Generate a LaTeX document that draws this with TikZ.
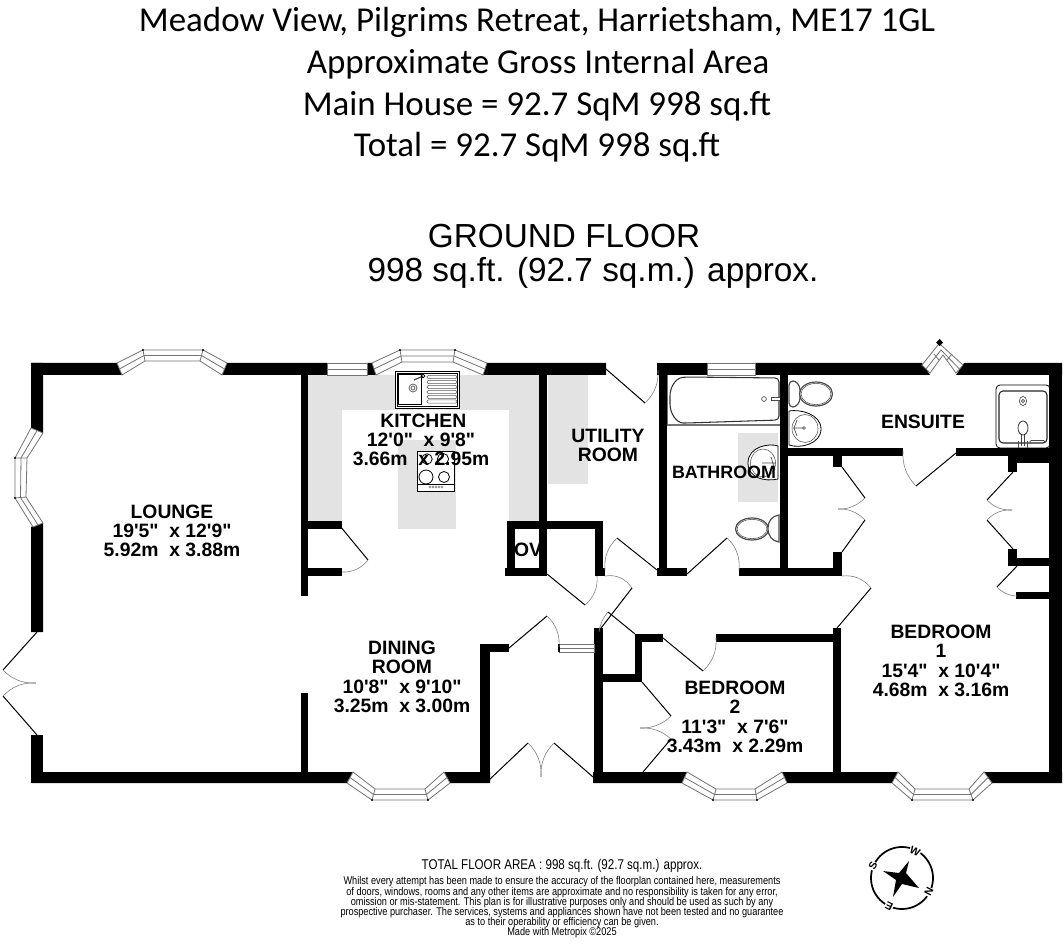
\documentclass[tikz,border=0pt]{standalone}
\usepackage{fontspec}
\usepackage{graphicx}
\usetikzlibrary{calc}
\newfontfamily\titlef{Carlito}
\newfontfamily\labf{Liberation Sans}
\newfontfamily\narrowf[FakeStretch=0.82]{Liberation Sans}
\newcommand\tightlines{\lineskiplimit=-5pt\relax}
\definecolor{floorgrey}{gray}{0.89}
\definecolor{glassline}{gray}{0.45}
\tikzset{
  wallfill/.style={fill=black,draw=none},
  leaf/.style={draw=black,line width=0.75pt},
  swing/.style={draw=black!50,line width=0.45pt},
  glass/.style={draw=glassline,line width=0.6pt,fill=white,line join=miter},
  glassmid/.style={draw=glassline,line width=0.6pt},
  fix/.style={draw=black,line width=0.6pt,fill=white},
  fixg/.style={draw=black!70,line width=0.9pt,fill=white},
  titletext/.style={font=\titlef\fontsize{26.2}{30}\selectfont,anchor=base,inner sep=0pt},
  headtext/.style={font=\labf\fontsize{25}{30}\selectfont,anchor=base,inner sep=0pt},
  roomtext/.style={font=\labf\bfseries\fontsize{14.5}{14.5}\selectfont\tightlines,align=center,inner sep=0pt},
  finetext/.style={font=\narrowf\fontsize{8.4}{7.65}\selectfont\tightlines,align=center,anchor=base,inner sep=0pt},
  compassletter/.style={font=\labf\bfseries\fontsize{8}{8}\selectfont,fill=white,inner sep=0.5pt},
}
\newcommand\W[4]{\fill[wallfill] (#1,#2) rectangle (#3,#4);}
\newcommand\doorleaf[3]{%
  \draw[leaf] #1 -- #2;
  \coordinate (swc) at ($#1!1.17!($#2!.5!#3$)$);
  \draw[swing] #2 .. controls ($#2!.667!(swc)$) and ($#3!.667!(swc)$) .. #3;}
\newcommand\bay[8]{%
  \draw[glass] #1 -- #2 -- #3 -- #4 -- #8 -- #7 -- #6 -- #5 -- cycle;
  \draw[glassmid] ($#1!.5!#5$) -- ($#2!.5!#6$) -- ($#3!.5!#7$) -- ($#4!.5!#8$);
  \draw[glassmid] #2 -- #6 #3 -- #7;
  \fill[black] #2 circle (1.2) #3 circle (1.2);
}
\newcommand\flatwin[4]{%
  \draw[glass] (#1,#2) rectangle (#3,#4);
  \draw[glassmid] (#1,{(#2+#4)/2}) -- (#3,{(#2+#4)/2});
}
\begin{document}
\begin{tikzpicture}[x=0.75pt,y=-0.75pt]
\useasboundingbox (0,0) rectangle (1064,944);
% ---------- floor tint
\fill[floorgrey] (308,375) rectangle (539,410);
\fill[floorgrey] (308,410) rectangle (342,521);
\fill[floorgrey] (509,410) rectangle (539,521);
\fill[floorgrey] (398,440) rectangle (456,529);
\fill[floorgrey] (548,375) rectangle (588,484);
\fill[floorgrey] (738,433) rectangle (778,502);
% ---------- sink
\draw[fix] (395.5,371.5) rectangle (459.5,408.5);
\draw[black,line width=0.5pt] (397.5,373.5) rectangle (457.5,406.5);
\draw[black,line width=0.5pt] (398.5,374.5) rectangle (421.5,404.5);
\draw[black!70,line width=0.5pt] (413,388) circle (4) (413,388) circle (2);
\draw[black!70,line width=0.9pt] (414,380) -- (423,376);
\draw[black,line width=0.5pt] (423,376) circle (1.8);
\foreach \yy in {377,382,387,392,397,401.5}
  \draw[black!65,line width=0.5pt,rounded corners=1pt] (427,\yy-1.6) rectangle (457,\yy+1.6);
% ---------- hob
\draw[fix] (417,451) rectangle (454,491);
\draw[black,line width=0.5pt] (417,484) -- (454,484);
\draw[black,line width=0.6pt] (427,459) circle (5.2) (443,459) circle (5.6) (426,477) circle (7) (444,477) circle (5.5);
\foreach \xx in {430,433,436,439,442}
  \draw[black!60,line width=0.3pt] (\xx,487) circle (1.1);
% ---------- bath
\draw[draw=black!55,line width=1pt,fill=white] (667.5,374) rectangle (784,425);
\draw[black!80,line width=0.8pt,rounded corners=3pt] (779,378) -- (687,377) .. controls (675,378) and (670,388) .. (670,400) .. controls (670,414) and (677,423) .. (687,423) -- (779,420) -- cycle;
\draw[black!70,line width=0.5pt] (764,399) circle (2.4);
\draw[black!70,line width=0.5pt,fill=white] (771,397.5) rectangle (782,400.5);
\draw[black!70,line width=0.5pt,fill=white] (780,392) rectangle (783,406);
% ---------- ensuite toilet
\draw[fixg,rounded corners=3pt] (789,381) .. controls (796,381) and (800,385) .. (800,394) .. controls (800,403) and (796,407) .. (789,407) -- cycle;
\draw[fixg] (816,394) ellipse (16.5 and 12);
\draw[black!70,line width=0.4pt] (816,394) ellipse (15 and 10.6);
% ---------- ensuite basin
\draw[fix] (789,411) .. controls (800,409) and (821,414) .. (821,429) .. controls (821,444) and (800,449) .. (789,445) -- cycle;
\draw[black!70,line width=0.4pt] (805,428.5) ellipse (13 and 14);
\draw[black!70,line width=0.5pt] (793,428) -- (804,428) (797,420) -- (794,428) -- (797,436);
\draw[black!70,line width=0.4pt] (804,428) circle (1.5);
% ---------- bathroom basin
\draw[fix] (778,446) .. controls (770,443) and (748,446) .. (748,463) .. controls (748,478) and (765,482) .. (778,479) -- cycle;
\draw[black!70,line width=0.4pt] (763,463) ellipse (12.5 and 14);
\draw[black!70,line width=0.5pt] (762,463) -- (775,463) (771,457) -- (775,470);
% ---------- bathroom toilet
\draw[fixg] (752,529) ellipse (16.5 and 11);
\draw[black!70,line width=0.4pt] (752,529) ellipse (15 and 9.6);
\draw[fixg] (779,515) .. controls (772,516) and (768,521) .. (768,528) .. controls (768,536) and (772,541) .. (779,542) -- cycle;
% ---------- shower
\draw[black,line width=0.6pt,fill=white,rounded corners=3pt] (996,385) rectangle (1050,448);
\draw[black!85,line width=0.8pt,rounded corners=3pt] (999,391) rectangle (1047,443);
\draw[black!70,line width=0.5pt] (1023,401) ellipse (3.6 and 4.6) (1023,401) circle (1.6);
\draw[black!75,line width=0.5pt] (1021.5,434) -- (1021.5,446) (1024.5,434) -- (1024.5,446);
\draw[black!80,line width=0.6pt,fill=white] (1023,428) ellipse (5 and 7);
\draw[black!70,line width=0.4pt] (1029,443) -- (1031,440.5) -- (1044,440.5) -- (1045,443);
\draw[black!70,line width=0.6pt] (1018,448) -- (1018,441) (1027,448) -- (1027,441);
% ---------- outer walls
\fill[wallfill] (31,363) -- (117,363) -- (122,375) -- (31,375) -- cycle;
\fill[wallfill] (227,363) -- (327,363) -- (327,375) -- (222,375) -- cycle;
\fill[wallfill] (367,363) -- (372,363) -- (376,375) -- (367,375) -- cycle;
\fill[wallfill] (487,363) -- (606,363) -- (606,375) -- (483,375) -- cycle;
\W{657}{363}{707}{375}
\fill[wallfill] (755,363) -- (922,363) -- (930,375) -- (755,375) -- cycle;
\fill[wallfill] (964,363) -- (1062,363) -- (1062,375) -- (956,375) -- cycle;
\W{1049}{363}{1062}{783}
\fill[wallfill] (31,363) -- (43,363) -- (43,433) -- (31,428) -- cycle;
\fill[wallfill] (31,527) -- (43,523) -- (43,632) -- (31,632) -- cycle;
\W{31}{735}{43}{783}
\fill[wallfill] (31,772) -- (353,772) -- (347,783) -- (31,783) -- cycle;
\fill[wallfill] (444,772) -- (490,772) -- (490,783) -- (450,783) -- cycle;
\fill[wallfill] (593,772) -- (687,772) -- (682,783) -- (593,783) -- cycle;
\fill[wallfill] (782,772) -- (898,772) -- (892,783) -- (787,783) -- cycle;
\fill[wallfill] (984,772) -- (1062,772) -- (1062,783) -- (992,783) -- cycle;
% ---------- inner walls
\W{301}{375}{308}{596}
\W{301}{693}{308}{772}
\W{308}{521}{342}{529}
\W{308}{568}{342}{576}
\W{539}{375}{547}{576}
\W{507}{521}{603}{529}
\W{507}{521}{515}{576}
\W{505}{568}{547}{576}
\W{595}{521}{603}{576}
\W{595}{568}{605}{576}
\W{659}{363}{667}{576}
\W{657}{568}{687}{576}
\W{739}{568}{841}{576}
\W{780}{375}{788}{576}
\W{788}{448}{903}{456}
\W{956}{448}{1050}{456}
\W{1017}{456}{1050}{463}
\W{1008}{448}{1017}{472}
\W{833}{456}{842}{467}
\W{833}{552}{842}{576}
\W{1008}{549}{1017}{566}
\W{1017}{558}{1050}{566}
\W{1016}{592}{1050}{599}
\W{833}{628}{841}{783}
\W{635}{634}{663}{642}
\W{716}{634}{833}{642}
\W{635}{634}{642}{682}
\W{603}{674}{642}{682}
\W{594}{628}{603}{783}
\W{480}{644}{509}{652}
\W{480}{644}{490}{783}
% ---------- windows
\bay{(117,363)}{(143,350)}{(203,350)}{(227,363)}{(122,375)}{(145,361)}{(200,361)}{(222,375)}
\bay{(31,428)}{(15,458)}{(15,498)}{(33,527)}{(43,433)}{(27,458)}{(26,497)}{(43,523)}
\bay{(372,363)}{(400,350)}{(455,350)}{(487,363)}{(376,375)}{(402,362)}{(453,362)}{(483,375)}
\bay{(347,783)}{(372,800)}{(428,800)}{(450,783)}{(353,772)}{(375,789)}{(425,789)}{(444,772)}
\bay{(682,783)}{(713,800)}{(757,800)}{(787,783)}{(687,772)}{(716,789)}{(755,789)}{(782,772)}
\bay{(892,783)}{(912,800)}{(973,800)}{(992,783)}{(898,772)}{(915,789)}{(969,789)}{(984,772)}
\flatwin{327}{363}{367}{375}
\flatwin{707}{363}{755}{375}
\flatwin{559}{644}{594}{652}
\fill[black] (558,644) rectangle (560,652);
% ensuite chevron window
\draw[glass] (922,365) -- (938,345) -- (941,345) -- (963,365) -- (956,373) -- (943,355) -- (930,373) -- cycle;
\draw[glassmid] (926,369) -- (941,350) -- (959.5,369);
\draw[glassmid] (934,354) -- (939,360) (947,360) -- (952,354);
\fill[black] (936,342.5) -- (939.5,339) -- (943,342.5) -- (939.5,346) -- cycle;
% ---------- doors
\doorleaf{(606,369)}{(645,403)}{(658,370)}
\doorleaf{(340,526)}{(368,560)}{(342,572)}
\doorleaf{(547,574)}{(585,605)}{(597,576)}
\doorleaf{(657,570)}{(617,538)}{(605,570)}
\doorleaf{(598,632)}{(632,588)}{(605,576)}
\draw[leaf] (608,612) -- (635,634);
\draw[swing] (608,612) .. controls (603,618) and (600,624) .. (599,632);
\doorleaf{(687,574)}{(727,538)}{(739,570)}
\doorleaf{(956,453)}{(916,486)}{(903,451)}
\doorleaf{(842,467)}{(865,498)}{(838,509)}
\doorleaf{(842,552)}{(865,520)}{(838,509)}
\doorleaf{(1013,472)}{(987,500)}{(1012,510)}
\doorleaf{(1013,549)}{(987,520)}{(1012,510)}
\doorleaf{(1017,566)}{(997,587)}{(1017,596)}
\doorleaf{(837,628)}{(871,588)}{(842,576)}
\doorleaf{(663,638)}{(703,671)}{(716,638)}
\doorleaf{(642,682)}{(671,716)}{(640,728)}
\doorleaf{(643,772)}{(671,739)}{(640,728)}
\doorleaf{(509,648)}{(547,616)}{(559,647)}
\doorleaf{(489,780)}{(528,743)}{(541,777)}
\doorleaf{(593,777)}{(554,743)}{(541,777)}
\doorleaf{(37,632)}{(3,670)}{(36,683)}
\doorleaf{(37,735)}{(3,696)}{(36,683)}
% ---------- title
\node[titletext] (t1) at (537,32) {Meadow View, Pilgrims Retreat, Harrietsham, ME17 1GL};
\node[titletext] (t2) at (538,74) {Approximate Gross Internal Area};
\node[titletext] (t3) at (537,116) {Main House = 92.7 SqM 998 sq.ft};
\node[titletext] (t4) at (537,157) {Total = 92.7 SqM 998 sq.ft};
\node[headtext] (h1) at (564,248) {GROUND FLOOR};
\node[headtext] (h2) at (593,282) {998 sq.ft. (92.7 sq.m.) approx.};
% ---------- rooms
\node[roomtext] (lounge) at (172,531) {LOUNGE\\19'5"\ \ x 12'9"\\5.92m\ \ x 3.88m};
\node[roomtext] (kitchen) at (421,440) {\hspace*{3.5pt}KITCHEN\\12'0"\ \ x 9'8"\\3.66m\ \ x 2.95m};
\node[roomtext] (utility) at (608,445.5) {UTILITY\\ROOM};
\node[roomtext,font=\labf\bfseries\fontsize{13.4}{14.5}\selectfont] (bath) at (724,472) {BATHROOM};
\node[roomtext] (ensuite) at (923,422) {ENSUITE};
\node[roomtext] (ov) at (528,550) {OV};
\node[roomtext] (dining) at (402,677) {DINING\\ROOM\\10'8"\ \ x 9'10"\\3.25m\ \ x 3.00m};
\node[roomtext] (bed2) at (735,717) {BEDROOM\\2\\11'3"\ \ x 7'6"\\3.43m\ \ x 2.29m};
\node[roomtext] (bed1) at (941,661) {BEDROOM\\1\\15'4"\ \ x 10'4"\\4.68m\ \ x 3.16m};
% ---------- footer
\node[finetext,font=\narrowf\fontsize{10.6}{11}\selectfont] (area) at (562,869) {TOTAL FLOOR AREA : 998 sq.ft. (92.7 sq.m.) approx.};
\node[finetext,anchor=north] (small) at (562,876.5) {Whilst every attempt has been made to ensure the accuracy of the floorplan contained here, measurements\\of doors, windows, rooms and any other items are approximate and no responsibility is taken for any error,\\omission or mis-statement. This plan is for illustrative purposes only and should be used as such by any\\prospective purchaser. The services, systems and appliances shown have not been tested and no guarantee\\as to their operability or efficiency can be given.\\Made with Metropix \textcopyright2025};
% ---------- compass
\coordinate (cc) at (902,878);
\draw[black,line width=1.3pt] (cc) ellipse (31 and 31);
\node[compassletter,rotate=-117] (cn) at (929,892) {N};
\node[compassletter,rotate=63] (cs) at (873,866) {S};
\node[compassletter,rotate=-26] (cw) at (915,851) {W};
\node[compassletter,rotate=154] (ce) at (889,906) {E};
\fill[black] (909,861) -- (906,873) -- (919,888) -- (902,884) -- (893,897) -- (896,880) -- (883,871) -- (899,873) -- cycle;
\end{tikzpicture}
\end{document}
